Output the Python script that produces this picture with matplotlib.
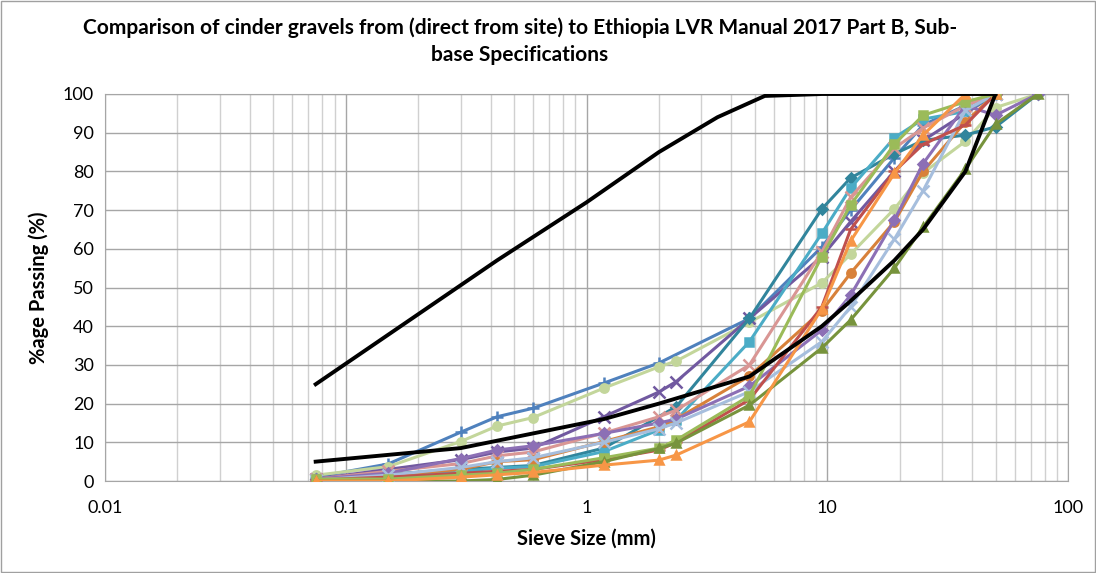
import matplotlib
matplotlib.use('Agg')
import matplotlib.pyplot as plt
from matplotlib.patches import Rectangle
from matplotlib.ticker import FixedLocator, NullFormatter

plt.rcParams['font.family'] = ['Lato', 'DejaVu Sans']

# sieve sizes (mm)
sieves = [0.075, 0.15, 0.3, 0.425, 0.6, 1.18, 2, 2.36, 4.75, 9.5, 12.5, 19, 25, 37.5, 50, 75]

# specification envelope
env_x_up = [0.075, 0.425, 1, 2, 3.5, 5.5, 9.5, 50]
env_up = [25, 57, 72, 85, 94, 99.5, 100, 100]
env_x_low = [0.075, 0.3, 1.18, 2, 4.75, 9.5, 12.5, 19, 25, 37.5, 50]
env_low = [5, 8.5, 16, 20, 27, 40, 46.5, 57, 65, 80, 100]

# sample gradings
s1_x = [0.075, 0.15, 0.3, 0.425, 0.6, 1.18, 2, 4.75, 9.5, 12.5, 19, 25, 37.5, 50]
s1_y = [1, 4.4, 12.6, 16.6, 18.8, 25.3, 30.5, 42, 60.5, 70, 83.5, 92, 97, 100]
s2_x = sieves
s2_y = [1.5, 3.7, 10.2, 14.2, 16.4, 24, 29.5, 31, 41, 51.2, 58.6, 70.3, 79.6, 87.8, 96.5, 100]
s3_x = [0.075, 0.3, 0.425, 0.6, 1.18, 2, 2.36, 4.75, 9.5, 12.5, 19, 25, 37.5, 50]
s3_y = [0.5, 5.5, 7.5, 8.5, 16.6, 23, 25.7, 42, 58, 67, 80, 88, 95, 100]
s4_x = [0.075, 0.3, 0.425, 0.6, 1.18, 2.36, 4.75, 9.5, 12.5, 19, 25, 37.5, 50, 75]
s4_y = [0.5, 3, 3.5, 4, 8.5, 19.2, 42, 70.3, 78.3, 84.5, 88, 89.4, 91.5, 100]
s5_x = sieves[:-1]
s5_y = [0, 1.5, 2.5, 3.3, 3.7, 7.6, 13.2, 15.8, 36, 64, 75.7, 88.7, 93.5, 95.5, 100]
s6_x = sieves[:-1]
s6_y = [0.5, 2.5, 4.5, 6.5, 7.5, 12.4, 16.6, 18.3, 30, 59.2, 73.3, 86, 91.2, 97, 100]
s7_x = sieves[:-1]
s7_y = [0.5, 1.5, 3, 5, 5.5, 10.2, 14, 16, 27.1, 44, 53.7, 67, 80, 92.8, 100]
s8_x = sieves
s8_y = [0.5, 2, 5.8, 8, 9.1, 12.3, 15, 16, 24.5, 39, 48, 67.4, 82, 97, 94.5, 100]
s9_x = sieves[:-1]
s9_y = [0.3, 1.5, 3.5, 5, 6, 10, 13.5, 15, 23.1, 36, 45, 62.5, 75, 95.8, 100]
s10_x = sieves[:-1]
s10_y = [0.3, 1, 2, 2.5, 3, 5.5, 8, 10, 21, 45, 65, 80, 87, 92, 100]
s11_x = sieves[:-1]
s11_y = [0.5, 0.5, 1.5, 2, 3, 6, 8.5, 10.6, 22, 58, 71.3, 87, 94.5, 98, 100]
s12_x = sieves
s12_y = [0, 0, 0, 0.4, 1.5, 5, 8.4, 9.8, 19.6, 34.4, 41.6, 55, 65.6, 80.6, 92.2, 100]
s13_x = sieves[:-1]
s13_y = [0, 0, 1, 1.6, 2.2, 4.1, 5.4, 6.7, 15.3, 44.5, 62, 79.5, 89.4, 100, 100]

series = [
    (s1_x, s1_y, '#4F81BD', '+'),
    (s2_x, s2_y, '#C3D69B', 'o'),
    (s3_x, s3_y, '#7159A0', 'x'),
    (s4_x, s4_y, '#31859C', 'D'),
    (s5_x, s5_y, '#4BACC6', 's'),
    (s6_x, s6_y, '#D99694', 'x'),
    (s7_x, s7_y, '#D8813A', 'o'),
    (s8_x, s8_y, '#8C6FB5', 'D'),
    (s9_x, s9_y, '#A6BEDD', 'x'),
    (s10_x, s10_y, '#C0504D', '_'),
    (s11_x, s11_y, '#9BBB59', 's'),
    (s12_x, s12_y, '#77933C', '^'),
    (s13_x, s13_y, '#F79646', '^'),
]

fig = plt.figure(figsize=(10.96, 5.73), dpi=100)
ax = fig.add_axes([105 / 1096, 92 / 573, 963 / 1096, 387 / 573])

for x, y, c, m in series:
    ms = 6 if m in ('D', '^', 's', 'o') else 8
    if m == 'D':
        ms = 5
    ax.plot(x, y, color=c, lw=2.2, marker=m, ms=ms, mew=1.8, zorder=3)

ax.plot(env_x_up, env_up, color='black', lw=2.8, zorder=4)
ax.plot(env_x_low, env_low, color='black', lw=2.8, zorder=4)

ax.set_xscale('log')
ax.set_xlim(0.01, 100)
ax.set_ylim(0, 100)
ax.set_yticks(range(0, 101, 10))
ax.xaxis.set_major_locator(FixedLocator([0.01, 0.1, 1, 10, 100]))
ax.set_xticklabels(['0.01', '0.1', '1', '10', '100'])
minors = [k * d for d in (0.01, 0.1, 1, 10) for k in range(2, 10)]
ax.xaxis.set_minor_locator(FixedLocator(minors))
ax.xaxis.set_minor_formatter(NullFormatter())
ax.grid(True, which='major', color='#A6A6A6', lw=1)
ax.grid(True, which='minor', axis='x', color='#D0D0D0', lw=1)
ax.set_axisbelow(True)
for sp in ax.spines.values():
    sp.set_color('#A6A6A6')
ax.tick_params(which='both', length=0, labelsize=13, pad=8)
ax.tick_params(axis='x', pad=14)

ax.set_xlabel('Sieve Size (mm)', fontsize=14.5, fontweight='bold', labelpad=9)
ax.set_ylabel('%age Passing (%)', fontsize=14.5, fontweight='bold', labelpad=10)

fig.text(520 / 1096, 1 - 28 / 573, 'Comparison of cinder gravels from (direct from site) to Ethiopia LVR Manual 2017 Part B, Sub-',
         ha='center', va='center', fontsize=15, fontweight='bold')
fig.text(520 / 1096, 1 - 55 / 573, 'base Specifications',
         ha='center', va='center', fontsize=15, fontweight='bold')

fig.patches.append(Rectangle((0.001, 0.001), 0.998, 0.997, transform=fig.transFigure,
                             fill=False, edgecolor='#A0A0A0', lw=1))

fig.savefig('out.png', dpi=100)
